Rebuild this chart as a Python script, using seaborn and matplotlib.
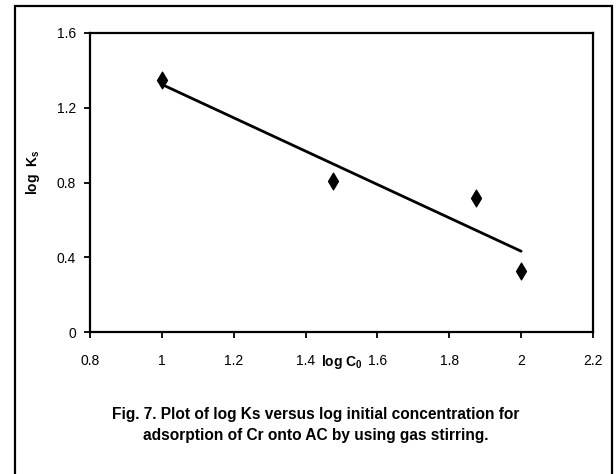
import matplotlib
matplotlib.use("Agg")
import matplotlib.pyplot as plt
import matplotlib.patches as mpatches
from matplotlib.ticker import FuncFormatter
import seaborn as sns
import numpy as np

# Data
log_c0 = [1.0, 1.477, 1.875, 2.0]
log_ks = [1.35, 0.81, 0.715, 0.325]
x_ticks = [0.8, 1.0, 1.2, 1.4, 1.6, 1.8, 2.0, 2.2]
y_ticks = [0.0, 0.4, 0.8, 1.2, 1.6]
caption = ("Fig. 7. Plot of log Ks versus log initial concentration for\n"
           "adsorption of Cr onto AC by using gas stirring.")

sns.set_style("white")
fam = ["Liberation Sans", "DejaVu Sans"]
plt.rcParams["font.family"] = fam
plt.rcParams["text.color"] = "black"
plt.rcParams["axes.labelcolor"] = "black"
plt.rcParams["mathtext.fontset"] = "custom"
plt.rcParams["mathtext.rm"] = "Liberation Sans:bold"
plt.rcParams["mathtext.bf"] = "Liberation Sans:bold"
plt.rcParams["mathtext.it"] = "Liberation Sans:bold"

fig = plt.figure(figsize=(6.16, 4.74), dpi=100)
ax = fig.add_axes([90/616, 1-332/474, (593-90)/616, (332-33)/474])

sns.regplot(x=log_c0, y=log_ks, ax=ax, ci=None, color="black",
            marker="d",
            scatter_kws=dict(s=75, color="black", edgecolors="black", linewidths=0.8,
                             alpha=1, zorder=3),
            line_kws=dict(color="black", linewidth=2.0))

ax.set_xlim(0.8, 2.2)
ax.set_ylim(0, 1.6)
ax.set_xticks(x_ticks)
ax.set_yticks(y_ticks)
fmt = FuncFormatter(lambda v, p: f"{v:g}")
ax.xaxis.set_major_formatter(fmt)
ax.yaxis.set_major_formatter(fmt)
ax.tick_params(axis="both", direction="out", length=4, width=1.3, colors="black",
               labelsize=10, bottom=True, left=True)
ax.tick_params(axis="x", pad=12)
ax.tick_params(axis="y", pad=6)
for s in ax.spines.values():
    s.set_visible(True)
    s.set_color("black")
    s.set_linewidth(1.6)

ax.set_xlabel(r"log C$_\mathrm{0}$", fontsize=10, fontweight="bold")
ax.xaxis.set_label_coords((342-90)/503, (332-353)/299)
ax.set_ylabel(r"log  K$_\mathregular{s}$", fontsize=10, fontweight="bold")
ax.yaxis.set_label_coords((42-90)/503, (332-172)/299)

fig.text(316/616, 1-425/474, caption, ha="center", va="center",
         fontsize=11.2, fontweight="bold", linespacing=1.55)

frame = mpatches.Rectangle((15/616, -0.05), (612-15)/616, 1-6/474+0.05,
                           transform=fig.transFigure, fill=False,
                           edgecolor="black", linewidth=1.6, clip_on=False)
fig.patches.append(frame)

fig.savefig("out.png", dpi=100, facecolor="white")
